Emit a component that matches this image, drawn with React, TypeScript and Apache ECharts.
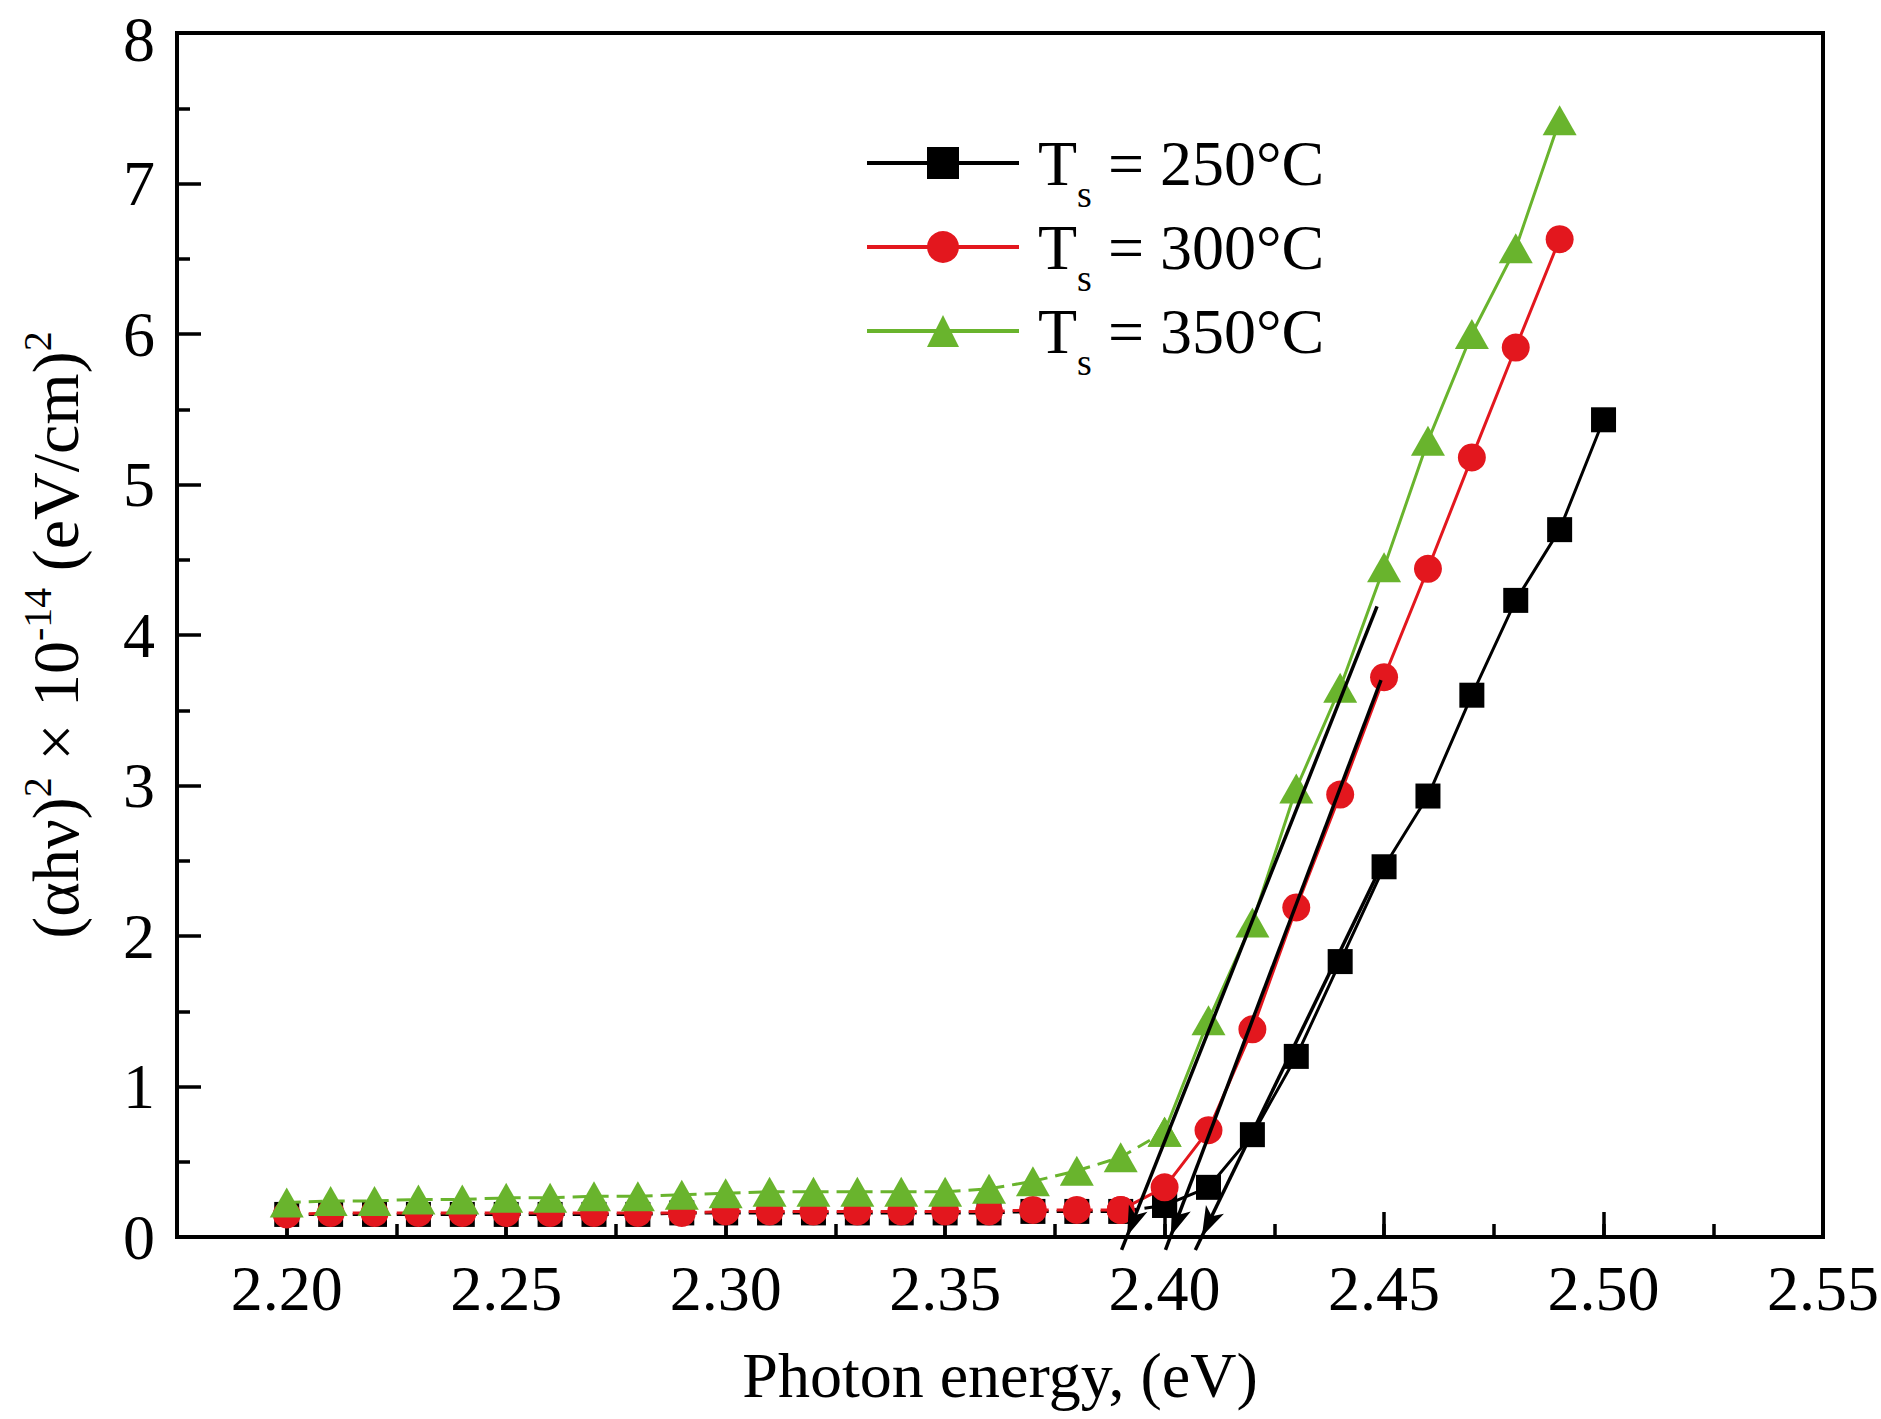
import React, { useEffect, useRef } from "react";
import * as echarts from "echarts";

const energies = [
  2.2, 2.21, 2.22, 2.23, 2.24, 2.25, 2.26, 2.27, 2.28, 2.29, 2.3, 2.31, 2.32, 2.33, 2.34, 2.35,
  2.36, 2.37, 2.38, 2.39, 2.4, 2.41, 2.42, 2.43, 2.44, 2.45, 2.46, 2.47, 2.48, 2.49, 2.5,
];
const ts250 = [
  0.15, 0.15, 0.15, 0.15, 0.15, 0.15, 0.15, 0.15, 0.15, 0.16, 0.16, 0.16, 0.16, 0.16, 0.16, 0.16,
  0.16, 0.17, 0.17, 0.17, 0.21, 0.33, 0.68, 1.2, 1.83, 2.46, 2.93, 3.6, 4.23, 4.7, 5.43,
];
const ts300 = [
  0.15, 0.16, 0.16, 0.16, 0.16, 0.16, 0.16, 0.16, 0.16, 0.16, 0.17, 0.17, 0.17, 0.17, 0.17, 0.17,
  0.17, 0.18, 0.18, 0.18, 0.33, 0.71, 1.38, 2.19, 2.94, 3.72, 4.44, 5.18, 5.91, 6.63,
];
const ts350 = [
  0.23, 0.24, 0.24, 0.25, 0.25, 0.26, 0.26, 0.27, 0.27, 0.28, 0.29, 0.3, 0.3, 0.3, 0.3, 0.3,
  0.32, 0.37, 0.44, 0.53, 0.7, 1.44, 2.09, 2.98, 3.65, 4.45, 5.29, 6.0, 6.57, 7.42,
];
// index where the dashed part ends and the solid part starts
const dashEnd = [20, 19, 20];
const seriesNames = ["Ts = 250°C", "Ts = 300°C", "Ts = 350°C"];
const colors = ["#000000", "#e3171e", "#69b42d"];
const symbols = ["rect", "circle", "triangle"];
const symbolSizes: any[] = [25, 28, [34, 30]];
// tangent (extrapolation) lines: [top point, arrow tip]
const fitLines = [
  [[2.4484, 4.19], [2.3902, -0.086]],
  [[2.4493, 3.7], [2.4002, -0.086]],
  [[2.4498, 2.49], [2.407, -0.086]],
];
const xTickMin = 2.175;
const xTickMax = 2.55;

const FONT = "Liberation Serif";
const ARROW_W = 15;
const ARROW_H = 30;

export default function App() {
  const ref = useRef<HTMLDivElement>(null);
  useEffect(() => {
    if (!ref.current) return;
    const chart = echarts.init(ref.current, null, { renderer: "svg" });
    const allData = [ts250, ts300, ts350];
    const series: any[] = [];
    allData.forEach((vals, i) => {
      const pts = vals.map((v, j) => [energies[j], v]);
      const k = dashEnd[i];
      series.push({
        type: "line",
        name: seriesNames[i] + " (dash)",
        data: pts.slice(0, k + 1),
        symbol: symbols[i],
        symbolSize: symbolSizes[i],
        showSymbol: true,
        itemStyle: { color: colors[i] },
        lineStyle: { color: colors[i], width: 3, type: [14, 8] },
        z: 2 + i,
      });
      series.push({
        type: "line",
        name: seriesNames[i],
        data: pts.slice(k),
        symbol: symbols[i],
        symbolSize: symbolSizes[i],
        showSymbol: true,
        itemStyle: { color: colors[i] },
        lineStyle: { color: colors[i], width: 3 },
        z: 2 + i,
      });
    });
    const fitSeries = (rot: number[], offs: number[][]) =>
      fitLines.map((c, i) => ({
        id: "fit" + i,
        type: "line",
        name: "fit" + i,
        clip: false,
        xAxisIndex: 0,
        yAxisIndex: 0,
        z: 10,
        lineStyle: { color: "#000", width: 3.5 },
        itemStyle: { color: "#000" },
        showSymbol: true,
        data: [
          { value: c[0], symbol: "none" },
          {
            value: c[1],
            symbol: "arrow",
            symbolSize: [ARROW_W, ARROW_H],
            symbolRotate: rot[i],
            symbolOffset: offs[i],
          },
        ],
      }));

    const fmtX = (v: number) => {
      const k = v / 0.05;
      return Math.abs(k - Math.round(k)) < 1e-6 ? v.toFixed(2) : "";
    };

    chart.setOption({
      animation: false,
      backgroundColor: "#fff",
      textStyle: { fontFamily: FONT, color: "#000" },
      grid: {
        left: 177,
        top: 33,
        right: 58,
        bottom: 182,
        show: true,
        borderColor: "#000",
        borderWidth: 4,
        outerBoundsMode: "none",
        containLabel: false,
      },
      legend: {
        data: seriesNames,
        orient: "vertical",
        left: 865,
        top: 113,
        padding: 0,
        itemWidth: 152,
        itemHeight: 40,
        itemGap: -16,
        lineStyle: { width: 4 },
        formatter: (name: string) => `{t|T}{s|s}{r| = ${name.slice(5)}}`,
        textStyle: {
          fontFamily: FONT,
          color: "#000",
          rich: {
            t: { fontFamily: FONT, fontSize: 64, lineHeight: 76, color: "#000", padding: [0, 0, 0, 14] },
            s: { fontFamily: FONT, fontSize: 38, lineHeight: 10, color: "#000", padding: [62, 0, 0, 0] },
            r: { fontFamily: FONT, fontSize: 64, lineHeight: 76, color: "#000" },
          },
        },
      },
      xAxis: [
        {
          type: "value",
          position: "bottom",
          min: xTickMin,
          max: xTickMax,
          interval: 0.025,
          axisLine: { show: true, lineStyle: { color: "#000", width: 4 } },
          axisTick: { show: true, inside: true, length: 13, lineStyle: { color: "#000", width: 3.5 } },
          axisLabel: { show: false },
          splitLine: { show: false },
        },
        {
          type: "value",
          position: "bottom",
          min: xTickMin,
          max: xTickMax,
          minInterval: 0.05,
          maxInterval: 0.05,
          splitNumber: 7,
          axisLine: { show: false },
          axisTick: { show: true, inside: true, length: 25, lineStyle: { color: "#000", width: 3.5 } },
          axisLabel: {
            show: true,
            formatter: fmtX,
            fontFamily: FONT,
            fontSize: 64,
            lineHeight: 74,
            color: "#000",
            margin: 14,
          },
          splitLine: { show: false },
          name: "Photon energy, (eV)",
          nameLocation: "middle",
          nameGap: 101,
          nameTextStyle: { fontFamily: FONT, fontSize: 64, lineHeight: 74, color: "#000" },
        },
      ],
      yAxis: {
        type: "value",
        min: 0,
        max: 8,
        interval: 1,
        axisLine: { show: true, lineStyle: { color: "#000", width: 4 } },
        axisTick: { show: true, inside: true, length: 24, lineStyle: { color: "#000", width: 3.5 } },
        minorTick: { show: true, splitNumber: 2, length: 13, lineStyle: { color: "#000", width: 3.5 } },
        axisLabel: {
          fontFamily: FONT,
          fontSize: 64,
          lineHeight: 60,
          color: "#000",
          margin: 22,
          formatter: (v: number) => (v === 8 ? "{top|8}" : String(v)),
          rich: {
            top: { fontFamily: FONT, fontSize: 64, lineHeight: 60, color: "#000", padding: [12, 0, 0, 0] },
          },
        },
        splitLine: { show: false },
        name: "{a|(αhν)}{s|2}{a| × 10}{s|-14}{a| (eV/cm)}{s|2}",
        nameLocation: "middle",
        nameGap: 85,
        nameTextStyle: {
          fontFamily: FONT,
          fontSize: 64,
          color: "#000",
          rich: {
            a: { fontFamily: FONT, fontSize: 66, lineHeight: 74, color: "#000" },
            s: { fontFamily: FONT, fontSize: 40, lineHeight: 10, color: "#000", padding: [0, 0, 36, 0] },
          },
        },
      },
      series: [...series, ...fitSeries([0, 0, 0], [[0, 0], [0, 0], [0, 0]])],
    });

    // orient each arrowhead along its line, tip on the line's end point
    const rots: number[] = [];
    const offs: number[][] = [];
    fitLines.forEach((c) => {
      const p0 = chart.convertToPixel({ xAxisIndex: 0, yAxisIndex: 0 } as any, c[0]) as any;
      const p1 = chart.convertToPixel({ xAxisIndex: 0, yAxisIndex: 0 } as any, c[1]) as any;
      const dx = p1[0] - p0[0];
      const dy = p1[1] - p0[1];
      const len = Math.hypot(dx, dy) || 1;
      const ux = dx / len;
      const uy = dy / len;
      rots.push((Math.atan2(-ux, -uy) * 180) / Math.PI);
      offs.push([(-ARROW_H / 2) * ux, (-ARROW_H / 2) * uy]);
    });
    chart.setOption({ series: fitSeries(rots, offs) });

    return () => chart.dispose();
  }, []);
  return (
    <div
      ref={ref}
      style={{ position: "absolute", left: 0, top: 0, width: 1881, height: 1419, background: "#fff" }}
    />
  );
}
